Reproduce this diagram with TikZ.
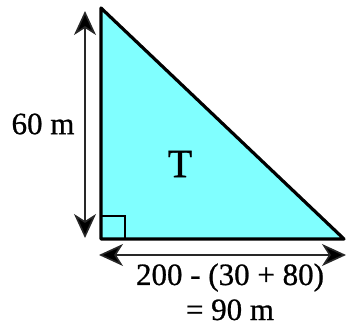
\documentclass[tikz,border=0pt]{standalone}
\usepackage{fontspec}
\setmainfont{Liberation Serif}[FakeBold=0.8]
\usetikzlibrary{arrows.meta}
\definecolor{tricyan}{RGB}{128,255,255}
\tikzset{
  dimarrow/.style={draw={rgb,255:red,40;green,40;blue,40}, line width=1.6pt,
    {Stealth[length=24pt,width=22pt,inset=7pt,fill=black]}-{Stealth[length=24pt,width=22pt,inset=7pt,fill=black]}},
  lbl/.style={font=\fontsize{31}{35}\selectfont, inner sep=0pt, align=center},
  tri/.style={fill=tricyan, draw=black, line width=3.2pt, line join=round}
}
\begin{document}
\begin{tikzpicture}[x=1pt,y=-1pt]
\useasboundingbox (0,0) rectangle (346,326);
\coordinate (A) at (101,8);
\coordinate (B) at (101,239);
\coordinate (C) at (344,239);
\draw[tri] (A) -- (B) -- (C) -- cycle;
\coordinate (sq1) at (101,216);
\coordinate (sq2) at (125,239);
\draw[line width=2pt] (sq1) -| (sq2);
\coordinate (v1) at (85,11);
\coordinate (v2) at (85,238);
\draw[dimarrow] (v1) -- (v2);
\coordinate (h1) at (99,255);
\coordinate (h2) at (346,255);
\draw[dimarrow] (h1) -- (h2);
\node[lbl] (h) at (43,124) {60 m};
\node[lbl, font=\fontsize{40}{44}\selectfont] (t) at (180,164) {T};
\node[lbl, anchor=base] (f1) at (230,285) {200 - (30 + 80)};
\node[lbl, anchor=base] (f2) at (230,320) {= 90 m};
\end{tikzpicture}
\end{document}
